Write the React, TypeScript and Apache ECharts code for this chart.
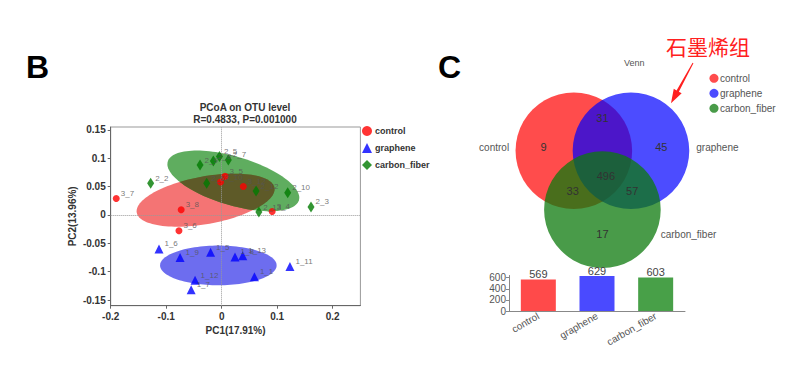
import React, { useEffect, useRef } from 'react';
import * as echarts from 'echarts';

const FONT = '"Liberation Sans", Arial, Helvetica, sans-serif';

// PCoA sample scores: [PC1, PC2, sample]
const controlPoints: [number, number, string][] = [
  [-0.19, 0.029, '3_7'],
  [-0.073, 0.009, '3_8'],
  [-0.077, -0.028, '3_6'],
  [0.006, 0.068, '3_5'],
  [-0.002, 0.058, '3_10'],
  [0.039, 0.05, '3_12'],
  [0.091, 0.006, '3_4'],
];
const graphenePoints: [number, number, string][] = [
  [-0.113, -0.06, '1_6'],
  [-0.075, -0.075, '1_9'],
  [-0.02, -0.066, '1_5'],
  [0.024, -0.074, '1_8'],
  [0.038, -0.072, '1_13'],
  [0.123, -0.091, '1_11'],
  [0.059, -0.109, '1_1'],
  [-0.048, -0.115, '1_12'],
  [-0.055, -0.132, '1_7'],
];
const carbonFiberPoints: [number, number, string][] = [
  [-0.128, 0.056, '2_2'],
  [-0.039, 0.088, '2_9'],
  [-0.015, 0.095, '2_8'],
  [-0.004, 0.103, '2_5'],
  [0.012, 0.097, '2_7'],
  [-0.027, 0.056, '2_6'],
  [0.062, 0.042, '2_12'],
  [0.119, 0.039, '2_10'],
  [0.161, 0.014, '2_3'],
  [0.067, 0.005, '2_13'],
];

// group ellipses: [centerPC1, centerPC2, semiMajor, semiMinor, angleDeg]
const controlEllipse = [-0.029, 0.026, 0.126, 0.042, 10];
const grapheneEllipse = [-0.006, -0.089, 0.105, 0.035, 0];
const carbonFiberEllipse = [0.021, 0.06, 0.123, 0.043, -16];

const pcoaXTicks = [-0.2, -0.1, 0, 0.1, 0.2];
const pcoaYTicks = [-0.15, -0.1, -0.05, 0, 0.05, 0.1, 0.15];

const groups = ['control', 'graphene', 'carbon_fiber'];
const otuTotals = [569, 629, 603];
const barTicks = [0, 200, 400, 600];

// Venn region counts: control only, control∩graphene, graphene only, all three,
// control∩carbon_fiber, graphene∩carbon_fiber, carbon_fiber only
const vennCounts = [9, 31, 45, 496, 33, 57, 17];

// Venn layout (unit = circle radius)
const vennCircleCenters = [
  [-0.49, 0.33],
  [0.49, 0.33],
  [0, -0.68],
];
const vennCountPos = [
  [-1.01, 0.4],
  [0, 0.9],
  [1.01, 0.4],
  [0.06, -0.1],
  [-0.51, -0.36],
  [0.51, -0.36],
  [0, -1.09],
];
const vennSetLabelPos: [number, number, string][] = [
  [-1.6, 0.39, 'right'],
  [1.61, 0.39, 'left'],
  [1.0, -1.1, 'left'],
];

const scatterColors = ['#ff0000', '#0000ff', '#007a00'];
const ellipseFills = ['rgba(240,70,70,0.75)', 'rgba(40,40,232,0.68)', 'rgba(42,146,42,0.75)'];
const ellipseOverlapFill = '#5e5a28';
const vennFills = ['rgba(255,0,0,0.7)', 'rgba(0,0,255,0.7)', 'rgba(12,122,12,0.75)'];
const barColors = ['#ff4a4a', '#4a4aff', '#48a048'];

function arrowPoints(x1: number, y1: number, x2: number, y2: number) {
  const dx = x2 - x1;
  const dy = y2 - y1;
  const len = Math.sqrt(dx * dx + dy * dy);
  const ux = dx / len;
  const uy = dy / len;
  const nx = -uy;
  const ny = ux;
  const headLen = 14;
  const bx = x2 - ux * headLen;
  const by = y2 - uy * headLen;
  const p = (x: number, y: number, w: number) => [x + nx * w, y + ny * w];
  return [
    p(x1, y1, 0.5),
    p(bx, by, 1.3),
    p(bx, by, 4.5),
    [x2, y2],
    p(bx, by, -4.5),
    p(bx, by, -1.3),
    p(x1, y1, -0.5),
  ];
}

function ellipsePixels(api: any, e: number[]) {
  const [cx, cy, a, b, deg] = e;
  const ang = (deg * Math.PI) / 180;
  const pts: number[][] = [];
  for (let i = 0; i < 120; i++) {
    const t = (i / 120) * Math.PI * 2;
    const dx = a * Math.cos(t);
    const dy = b * Math.sin(t);
    pts.push(api.coord([cx + dx * Math.cos(ang) - dy * Math.sin(ang), cy + dx * Math.sin(ang) + dy * Math.cos(ang)]));
  }
  return pts;
}

function clipConvex(subject: number[][], clip: number[][]) {
  let area = 0;
  for (let i = 0; i < clip.length; i++) {
    const p = clip[i];
    const q = clip[(i + 1) % clip.length];
    area += p[0] * q[1] - q[0] * p[1];
  }
  const s = area > 0 ? 1 : -1;
  let out = subject;
  for (let i = 0; i < clip.length && out.length; i++) {
    const A = clip[i];
    const B = clip[(i + 1) % clip.length];
    const side = (P: number[]) => (B[0] - A[0]) * (P[1] - A[1]) - (B[1] - A[1]) * (P[0] - A[0]);
    const inp = out;
    out = [];
    for (let j = 0; j < inp.length; j++) {
      const P = inp[j];
      const Q = inp[(j + 1) % inp.length];
      const dp = side(P);
      const dq = side(Q);
      const pin = s * dp >= 0;
      const qin = s * dq >= 0;
      const inter = () => {
        const t = dp / (dp - dq);
        return [P[0] + t * (Q[0] - P[0]), P[1] + t * (Q[1] - P[1])];
      };
      if (pin) {
        out.push(P);
        if (!qin) out.push(inter());
      } else if (qin) {
        out.push(inter());
      }
    }
  }
  return out;
}

export default function App() {
  const ref = useRef<HTMLDivElement>(null);

  useEffect(() => {
    if (!ref.current) return;
    const chart = echarts.init(ref.current, undefined, { renderer: 'svg' });

    const pointLabel = {
      show: true,
      formatter: (p: any) => p.value[2],
      position: 'right',
      distance: 1,
      offset: [0, -5],
      fontSize: 8,
      color: '#555',
      fontFamily: FONT,
    };

    const axisText = { fontSize: 10, fontWeight: 'bold', color: '#333', fontFamily: FONT };
    const ellipses = [controlEllipse, grapheneEllipse, carbonFiberEllipse];

    const option: any = {
      animation: false,
      backgroundColor: '#ffffff',
      textStyle: { fontFamily: FONT },
      grid: [
        {
          left: 110.7,
          top: 127,
          width: 249.7,
          height: 178.7,
          show: true,
          borderColor: '#999',
          borderWidth: 1,
          backgroundColor: 'transparent',
        },
        { left: 485.8, top: 53.4, width: 233.2, height: 233.2, show: false },
        { left: 509, top: 275.5, width: 176, height: 35.5 },
      ],
      xAxis: [
        {
          gridIndex: 0,
          type: 'value',
          min: -0.2,
          max: 0.25,
          splitLine: { show: false },
          axisLine: { show: true, onZero: false, lineStyle: { color: '#666' } },
          axisTick: { show: true, length: 3, customValues: pcoaXTicks, lineStyle: { color: '#666' } },
          axisLabel: { ...axisText, customValues: pcoaXTicks, margin: 6, formatter: (v: number) => String(v) },
          name: 'PC1(17.91%)',
          nameLocation: 'middle',
          nameGap: 20,
          nameTextStyle: axisText,
        },
        { gridIndex: 1, type: 'value', min: -2, max: 2, show: false },
        {
          gridIndex: 2,
          type: 'category',
          data: groups,
          axisLine: { lineStyle: { color: '#888' } },
          axisTick: { alignWithLabel: true, length: 3, lineStyle: { color: '#888' } },
          axisLabel: { rotate: 30, fontSize: 10, color: '#555', margin: 4, interval: 0, fontFamily: FONT },
        },
      ],
      yAxis: [
        {
          gridIndex: 0,
          type: 'value',
          min: -0.16,
          max: 0.155,
          splitLine: { show: false },
          axisLine: { show: true, onZero: false, lineStyle: { color: '#666' } },
          axisTick: { show: true, length: 3, customValues: pcoaYTicks, lineStyle: { color: '#666' } },
          axisLabel: { ...axisText, customValues: pcoaYTicks, margin: 5, formatter: (v: number) => String(v) },
          name: 'PC2(13.96%)',
          nameLocation: 'middle',
          nameGap: 33,
          nameRotate: 90,
          nameTextStyle: axisText,
        },
        { gridIndex: 1, type: 'value', min: -2, max: 2, show: false },
        {
          gridIndex: 2,
          type: 'value',
          min: 0,
          max: 640,
          splitLine: { show: false },
          axisLine: { show: true, lineStyle: { color: '#888' } },
          axisTick: { show: true, length: 3, customValues: barTicks, lineStyle: { color: '#888' } },
          axisLabel: { customValues: barTicks, fontSize: 10, color: '#555', margin: 3, fontFamily: FONT },
        },
      ],
      legend: [
        {
          data: [
            { name: 'control', icon: 'circle' },
            { name: 'graphene', icon: 'triangle' },
            { name: 'carbon_fiber', icon: 'diamond' },
          ],
          orient: 'vertical',
          left: 357,
          top: 121,
          itemWidth: 10,
          itemHeight: 10,
          itemGap: 7,
          selectedMode: false,
          textStyle: { fontSize: 9, fontWeight: 'bold', color: '#333', fontFamily: FONT, padding: [0, 0, 0, -2] },
        },
      ],
      series: [
        {
          type: 'custom',
          xAxisIndex: 0,
          yAxisIndex: 0,
          silent: true,
          z: 2,
          data: ellipses,
          encode: { x: 0, y: 1 },
          renderItem: (params: any, api: any) => {
            const e = [0, 1, 2, 3, 4].map((k) => api.value(k));
            return {
              type: 'polygon',
              shape: { points: ellipsePixels(api, e) },
              style: { fill: ellipseFills[params.dataIndex] },
            };
          },
          markLine: {
            silent: true,
            symbol: 'none',
            label: { show: false },
            lineStyle: { type: 'dotted', color: '#999', width: 1 },
            data: [{ xAxis: 0 }, { yAxis: 0 }],
          },
        },
        {
          type: 'custom',
          xAxisIndex: 0,
          yAxisIndex: 0,
          silent: true,
          z: 3,
          data: [[controlEllipse[0], controlEllipse[1]]],
          renderItem: (params: any, api: any) => {
            const red = ellipsePixels(api, controlEllipse);
            const green = ellipsePixels(api, carbonFiberEllipse);
            return {
              type: 'polygon',
              shape: { points: clipConvex(red, green) },
              style: { fill: ellipseOverlapFill },
            };
          },
        },
        {
          name: 'control',
          type: 'scatter',
          xAxisIndex: 0,
          yAxisIndex: 0,
          z: 5,
          symbol: 'circle',
          symbolSize: 7,
          itemStyle: { color: scatterColors[0] },
          label: pointLabel,
          data: controlPoints,
        },
        {
          name: 'graphene',
          type: 'scatter',
          xAxisIndex: 0,
          yAxisIndex: 0,
          z: 5,
          symbol: 'triangle',
          symbolSize: 9,
          itemStyle: { color: scatterColors[1] },
          label: pointLabel,
          data: graphenePoints,
        },
        {
          name: 'carbon_fiber',
          type: 'scatter',
          xAxisIndex: 0,
          yAxisIndex: 0,
          z: 5,
          symbol: 'diamond',
          symbolSize: [7, 11],
          itemStyle: { color: scatterColors[2] },
          label: pointLabel,
          data: carbonFiberPoints,
        },
        {
          type: 'custom',
          xAxisIndex: 1,
          yAxisIndex: 1,
          silent: true,
          z: 2,
          data: vennCircleCenters,
          renderItem: (params: any, api: any) => {
            const c = api.coord([api.value(0), api.value(1)]);
            const r = api.size([1, 0])[0];
            return { type: 'circle', shape: { cx: c[0], cy: c[1], r }, style: { fill: vennFills[params.dataIndex] } };
          },
        },
        {
          type: 'custom',
          xAxisIndex: 1,
          yAxisIndex: 1,
          silent: true,
          z: 5,
          data: vennCountPos.map((p, i) => [p[0], p[1], vennCounts[i]]),
          renderItem: (params: any, api: any) => {
            const c = api.coord([api.value(0), api.value(1)]);
            return {
              type: 'text',
              x: c[0],
              y: c[1],
              style: {
                text: String(api.value(2)),
                align: 'center',
                verticalAlign: 'middle',
                font: `11px ${FONT}`,
                fill: '#333',
              },
            };
          },
        },
        {
          type: 'custom',
          xAxisIndex: 1,
          yAxisIndex: 1,
          silent: true,
          z: 5,
          data: vennSetLabelPos.map((p) => [p[0], p[1]]),
          renderItem: (params: any, api: any) => {
            const c = api.coord([api.value(0), api.value(1)]);
            return {
              type: 'text',
              x: c[0],
              y: c[1],
              style: {
                text: groups[params.dataIndex],
                align: vennSetLabelPos[params.dataIndex][2],
                verticalAlign: 'middle',
                font: `10px ${FONT}`,
                fill: '#555',
              },
            };
          },
        },
        {
          type: 'bar',
          xAxisIndex: 2,
          yAxisIndex: 2,
          barWidth: 35,
          data: otuTotals.map((v, i) => ({ value: v, itemStyle: { color: barColors[i] } })),
          label: { show: true, position: 'top', distance: 0, fontSize: 11, color: '#444', fontFamily: FONT },
        },
      ],
      graphic: [
        { type: 'text', x: 26, y: 51, style: { text: 'B', font: `bold 32px ${FONT}`, fill: '#000', verticalAlign: 'top' } },
        { type: 'text', x: 438, y: 51, style: { text: 'C', font: `bold 32px ${FONT}`, fill: '#000', verticalAlign: 'top' } },
        {
          type: 'text',
          x: 245,
          y: 101,
          style: {
            text: 'PCoA on OTU level\nR=0.4833, P=0.001000',
            align: 'center',
            verticalAlign: 'top',
            font: `bold 10px ${FONT}`,
            lineHeight: 12,
            fill: '#333',
          },
        },
        { type: 'text', x: 624, y: 63, style: { text: 'Venn', font: `9px ${FONT}`, fill: '#555', verticalAlign: 'middle' } },
        {
          type: 'text',
          x: 666,
          y: 35,
          style: { text: '石墨烯组', font: '21px "Noto Sans CJK SC", sans-serif', fill: '#ff2020', verticalAlign: 'top' },
        },
        { type: 'polygon', shape: { points: arrowPoints(693, 63, 671, 103.3) }, style: { fill: '#ff2020' } },
        { type: 'circle', shape: { cx: 714, cy: 78.3, r: 4.5 }, style: { fill: vennFills[0] } },
        { type: 'circle', shape: { cx: 714, cy: 93.3, r: 4.5 }, style: { fill: vennFills[1] } },
        { type: 'circle', shape: { cx: 714, cy: 108.3, r: 4.5 }, style: { fill: vennFills[2] } },
        { type: 'text', x: 720, y: 78.3, style: { text: groups[0], font: `10px ${FONT}`, fill: '#555', verticalAlign: 'middle' } },
        { type: 'text', x: 720, y: 93.3, style: { text: groups[1], font: `10px ${FONT}`, fill: '#555', verticalAlign: 'middle' } },
        { type: 'text', x: 720, y: 108.3, style: { text: groups[2], font: `10px ${FONT}`, fill: '#555', verticalAlign: 'middle' } },
      ],
    };

    chart.setOption(option);
    return () => chart.dispose();
  }, []);

  return <div ref={ref} style={{ position: 'fixed', left: 0, top: 0, width: 808, height: 372 }} />;
}
